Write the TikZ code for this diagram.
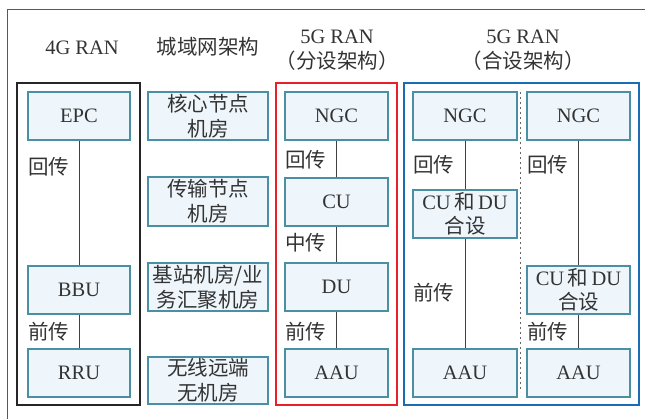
\documentclass[tikz,border=0pt]{standalone}
\usepackage{fontspec}
\setmainfont{Liberation Serif}
\newfontfamily\cjk{Noto Sans CJK SC}
\definecolor{boxline}{HTML}{4A8FA3}
\definecolor{boxfill}{HTML}{EEF6FC}
\definecolor{txt}{HTML}{333333}
\definecolor{redf}{HTML}{E8202A}
\definecolor{bluef}{HTML}{1A6DB5}
\newcommand{\cjkfs}{\fontsize{20.5}{25}\selectfont\cjk}
\begin{document}
\begin{tikzpicture}[x=1pt,y=-1pt,
  unitbox/.style={draw=boxline,fill=boxfill,line width=1.1pt,minimum width=#1,inner sep=0pt,align=center,text=txt,font=\fontsize{20.5}{24}\selectfont},
  unitbox/.default=102pt,
  lbl/.style={anchor=west,inner sep=0pt,text=txt,font=\cjkfs},
  hdr/.style={inner sep=0pt,align=center,text=txt,font=\fontsize{20.5}{25}\selectfont},
  conn/.style={draw=black!75,line width=1pt}]
\useasboundingbox (0,0) rectangle (645,419);
% outer frame
\draw[black!65,line width=1pt] (7,419) -- (7,10) -- (645,10);
% headers
\node[hdr] (h1) at (82,48) {4G RAN};
\node[hdr,font=\cjkfs] (h2) at (208,47) {城域网架构};
\node[hdr] (h3) at (337,50) {5G RAN\\{\cjk （分设架构）}};
\node[hdr] (h4) at (523,50) {5G RAN\\{\cjk （合设架构）}};
% group frames
\draw[black!85,line width=2pt] (17,83) rectangle (140,405);
\draw[redf,line width=2pt] (276,83) rectangle (397,405);
\draw[bluef,line width=2pt] (404,83) rectangle (639,405);
% 4G column
\node[unitbox,minimum height=48pt] (epc) at (79,116) {EPC};
\node[unitbox,minimum height=48pt] (bbu) at (79,290) {BBU};
\node[unitbox,minimum height=48pt] (rru) at (79,373) {RRU};
\draw[conn] (epc) -- (bbu);
\draw[conn] (bbu) -- (rru);
\node[lbl] (l1) at (28,167) {回传};
\node[lbl] (l2) at (28,332) {前传};
% middle column
\node[unitbox=120pt,minimum height=48pt,font=\cjkfs] (m1) at (208,116) {核心节点\\机房};
\node[unitbox=120pt,minimum height=49pt,font=\cjkfs] (m2) at (208,201.5) {传输节点\\机房};
\node[unitbox=120pt,minimum height=48pt,font=\cjkfs] (m3) at (208,287) {基站机房/业\\务汇聚机房};
\node[unitbox=120pt,minimum height=47pt,font=\cjkfs] (m4) at (208,380.5) {无线远端\\无机房};
% 5G separate
\node[unitbox=103pt,minimum height=48pt] (ngc1) at (336.5,116) {NGC};
\node[unitbox=103pt,minimum height=48pt] (cu) at (336.5,202) {CU};
\node[unitbox=103pt,minimum height=48pt] (du) at (336.5,287) {DU};
\node[unitbox=103pt,minimum height=48pt] (aau1) at (336.5,373) {AAU};
\draw[conn] (ngc1) -- (cu);
\draw[conn] (cu) -- (du);
\draw[conn] (du) -- (aau1);
\node[lbl] (l3) at (285,160) {回传};
\node[lbl] (l4) at (285,243) {中传};
\node[lbl] (l5) at (285,332) {前传};
% 5G combined, left
\node[unitbox=104pt,minimum height=48pt] (ngc2) at (465,116) {NGC};
\node[unitbox=104pt,minimum height=48pt] (cd1) at (465,214) {CU\,{\cjk 和}\,DU\\{\cjk 合设}};
\node[unitbox=104pt,minimum height=48pt] (aau2) at (465,373) {AAU};
\draw[conn] (ngc2) -- (cd1);
\draw[conn] (cd1) -- (aau2);
\node[lbl] (l6) at (413,165) {回传};
\node[lbl] (l7) at (413,293) {前传};
% divider
\coordinate (dv1) at (520.5,92);
\coordinate (dv2) at (520.5,392);
\draw[black!60,line width=1.2pt,dash pattern=on 2.5pt off 2.5pt] (dv1) -- (dv2);
% 5G combined, right
\node[unitbox=103pt,minimum height=48pt] (ngc3) at (578.5,116) {NGC};
\node[unitbox=103pt,minimum height=48pt] (cd2) at (578.5,290) {CU\,{\cjk 和}\,DU\\{\cjk 合设}};
\node[unitbox=103pt,minimum height=48pt] (aau3) at (578.5,373) {AAU};
\draw[conn] (ngc3) -- (cd2);
\draw[conn] (cd2) -- (aau3);
\node[lbl] (l8) at (527,165) {回传};
\node[lbl] (l9) at (527,332) {前传};
\end{tikzpicture}
\end{document}
